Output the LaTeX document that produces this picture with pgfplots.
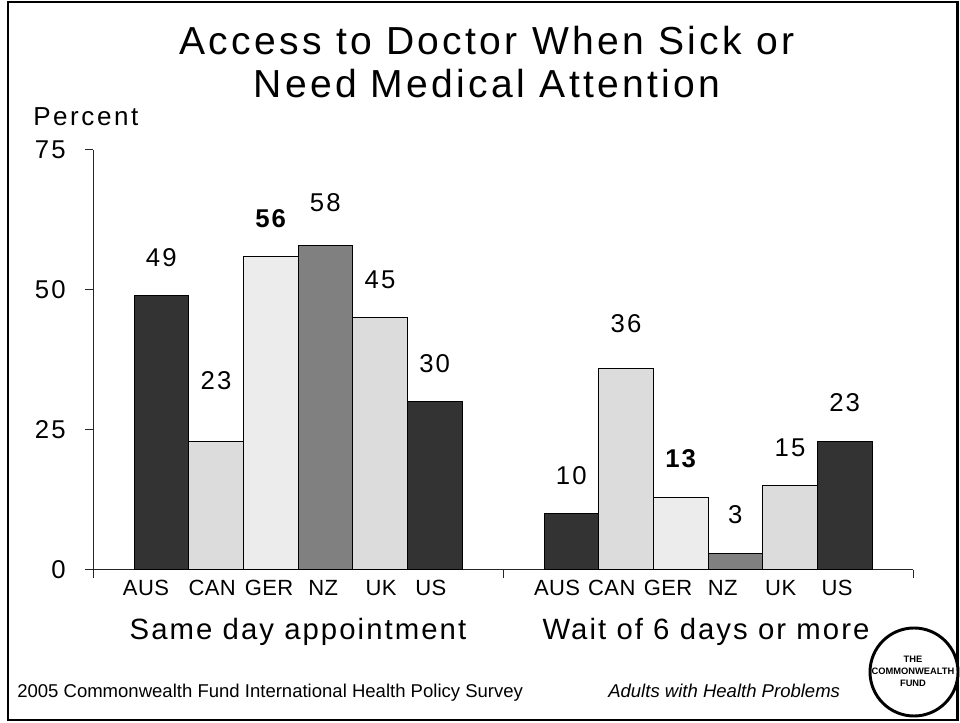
\documentclass[border=0pt]{standalone}
\usepackage{pgfplots}
\pgfplotsset{compat=1.18}
\usepackage{fontspec}
\setmainfont{Liberation Sans}
\newfontfamily\titlefont[LetterSpace=8.5]{Liberation Sans}
\newfontfamily\pctfont[LetterSpace=10]{Liberation Sans}
\newfontfamily\numfont[LetterSpace=8]{Liberation Sans}
\newfontfamily\grpfont[LetterSpace=7]{Liberation Sans}
\newfontfamily\ctryfont[LetterSpace=2]{Liberation Sans}
\definecolor{cdark}{HTML}{333333}
\definecolor{clight}{HTML}{DCDCDC}
\definecolor{cvlight}{HTML}{ECECEC}
\definecolor{cmid}{HTML}{808080}
\newcommand{\nf}{\numfont\fontsize{19.3}{21}\selectfont}
\newcommand{\nfb}{\numfont\bfseries\fontsize{19.3}{21}\selectfont}
\begin{document}
\begin{tikzpicture}[x=0.75pt,y=0.75pt]
\path[use as bounding box] (0,0) rectangle (960,723);
\draw[line width=1.8pt] (8,3) rectangle (957.5,721);
% title
\node[anchor=base] at (487,668) {\titlefont\fontsize{29.3}{32}\selectfont Access to Doctor When Sick or};
\node[anchor=base] at (487,625) {\titlefont\fontsize{29.3}{32}\selectfont Need Medical Attention};
\node[anchor=base west, inner sep=0pt] at (33,597) {\pctfont\fontsize{19.5}{21}\selectfont Percent};
\begin{axis}[
  at={(69.75pt,114.75pt)}, anchor=south west,
  scale only axis, width=615pt, height=315pt,
  xmin=0, xmax=15, ymin=0, ymax=75,
  axis x line*=bottom, axis y line*=left,
  axis line style={-, draw=black!85, line width=0.75pt},
  ytick={0,25,50,75}, yticklabels={0,25,50,75},
  yticklabel style={font=\nf, xshift=-11pt},
  tick align=outside, major tick length=6pt,
  tick style={draw=black!85, line width=0.75pt},
  xtick={0.97,2.18,3.22,4.21,5.27,6.18,8.49,9.49,10.52,11.52,12.58,13.61},
  xticklabels={AUS,CAN,GER,NZ,UK,US,AUS,CAN,GER,NZ,UK,US},
  xticklabel style={font=\ctryfont\fontsize{16.5}{18}\selectfont, yshift=2pt},
  xtick style={draw=none},
  extra x ticks={0,7.5,15}, extra x tick labels={},
  extra x tick style={xtick style={draw=black!85, line width=0.75pt}, major tick length=6pt},
  ybar, bar width=1,
  every axis plot/.append style={bar shift=0pt, draw=black, line width=0.75pt},
  clip=false,
]
\addplot[fill=cdark, nodes near coords={\nf 49}, nodes near coords style={yshift=18pt}] coordinates {(1.25,49)};
\addplot[fill=clight, nodes near coords={\nf 23}, nodes near coords style={yshift=35pt}] coordinates {(2.25,23)};
\addplot[fill=cvlight, nodes near coords={\nfb 56}, nodes near coords style={yshift=18pt}] coordinates {(3.25,56)};
\addplot[fill=cmid, nodes near coords={\nf 58}, nodes near coords style={yshift=21pt}] coordinates {(4.25,58)};
\addplot[fill=clight, nodes near coords={\nf 45}, nodes near coords style={yshift=18pt}] coordinates {(5.25,45)};
\addplot[fill=cdark, nodes near coords={\nf 30}, nodes near coords style={yshift=18pt}] coordinates {(6.25,30)};
\addplot[fill=cdark, nodes near coords={\nf 10}, nodes near coords style={yshift=18pt}] coordinates {(8.75,10)};
\addplot[fill=clight, nodes near coords={\nf 36}, nodes near coords style={yshift=23pt}] coordinates {(9.75,36)};
\addplot[fill=cvlight, nodes near coords={\nfb 13}, nodes near coords style={yshift=18pt}] coordinates {(10.75,13)};
\addplot[fill=cmid, nodes near coords={\nf 3}, nodes near coords style={yshift=18pt}] coordinates {(11.75,3)};
\addplot[fill=clight, nodes near coords={\nf 15}, nodes near coords style={yshift=18pt}] coordinates {(12.75,15)};
\addplot[fill=cdark, nodes near coords={\nf 23}, nodes near coords style={yshift=18pt}] coordinates {(13.75,23)};
\end{axis}
% group labels
\node[anchor=base] at (298,83) {\grpfont\fontsize{22}{24}\selectfont Same day appointment};
\node[anchor=base] at (706,83) {\grpfont\fontsize{22}{24}\selectfont Wait of 6 days or more};
% footer
\node[anchor=base west, inner sep=0pt] at (17,25) {\fontsize{13.9}{16}\selectfont 2005 Commonwealth Fund International Health Policy Survey};
\node[anchor=base west, inner sep=0pt] at (608,25) {\fontsize{13.9}{16}\selectfont\itshape Adults with Health Problems};
% logo
\draw[line width=2.2pt, fill=white] (914,51) circle (44);
\node[align=center, inner sep=0pt, font=\fontsize{7}{9}\selectfont\bfseries] at (913,52) {THE\\COMMONWEALTH\\FUND};
\end{tikzpicture}
\end{document}
